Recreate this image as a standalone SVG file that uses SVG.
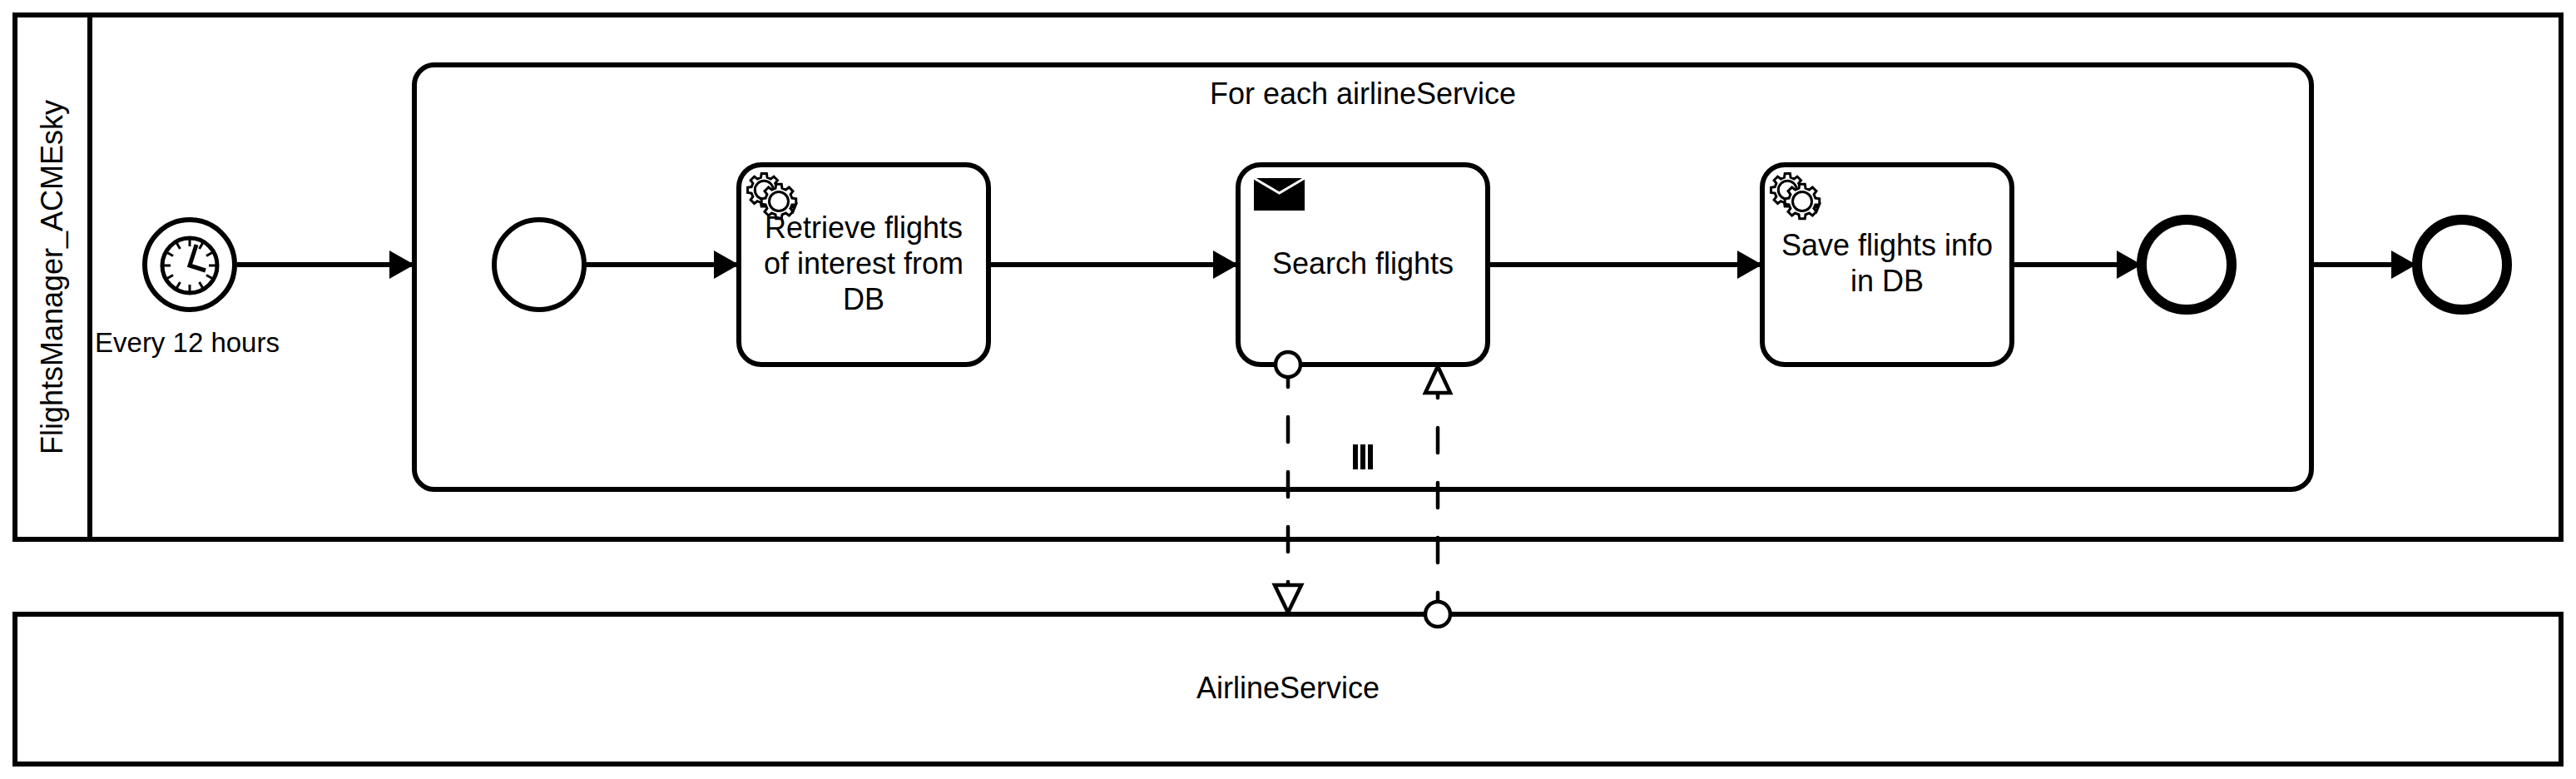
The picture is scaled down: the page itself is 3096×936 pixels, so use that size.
<svg xmlns="http://www.w3.org/2000/svg" xmlns:xlink="http://www.w3.org/1999/xlink" width="3096" height="936" viewBox="0 0 3096 936">
<style>
.box{fill:#fff;stroke:#000;stroke-width:6}
.seq{fill:none;stroke:#000;stroke-width:6;marker-end:url(#head)}
.msg{fill:none;stroke:#000;stroke-width:4.5;stroke-linecap:round;stroke-dasharray:30 36}
.ring{fill:#fff;stroke:#000;stroke-width:4.5}
.gear{fill:#fff;stroke:#000;stroke-width:3;vector-effect:non-scaling-stroke}
.t{font-family:"Liberation Sans",Arial,sans-serif;font-size:36px;fill:#000;text-anchor:middle}
.end{fill:#fff;stroke:#000;stroke-width:12}
</style>
<defs>
<marker id="head" markerUnits="userSpaceOnUse" markerWidth="32" markerHeight="36" refX="30" refY="17" orient="auto"><polygon points="0,0 30,17 0,34" fill="#000"/></marker>
<path id="gearShape" class="gear" d="M75.7,18.9L98.8,15.6L80.9,58.8L66.9,40.2ZM66.9,40.2L80.9,58.8L58.8,80.9L40.2,66.9L18.9,75.7L15.6,98.8L-15.6,98.8L-18.9,75.7L-40.2,66.9L-58.8,80.9L-80.9,58.8L-66.9,40.2L-75.7,18.9L-98.8,15.6L-98.8,-15.6L-75.7,-18.9L-66.9,-40.2L-80.9,-58.8L-58.8,-80.9L-40.2,-66.9L-18.9,-75.7L-15.6,-98.8L15.6,-98.8L18.9,-75.7L40.2,-66.9L58.8,-80.9L80.9,-58.8L66.9,-40.2L75.7,-18.9L98.8,-15.6L98.8,15.6Z"/>
<g id="gears">
<use href="#gearShape" transform="translate(30.3,30.3) scale(.2)"/>
<circle cx="30.3" cy="30.3" r="11" fill="#fff" stroke="#000" stroke-width="3"/>
<use href="#gearShape" transform="translate(48,44) scale(.21)"/>
<circle cx="48" cy="44" r="11.5" fill="#fff" stroke="#000" stroke-width="3"/>
</g>
</defs>
<rect width="3096" height="936" fill="#fff"/>
<g id="pool-flightsmanager">
<rect class="box" x="18" y="18" width="3060" height="630"/>
<line x1="108" y1="18" x2="108" y2="648" stroke="#000" stroke-width="6"/>
<text class="t" transform="translate(75,333) rotate(-90)">FlightsManager_ACMEsky</text>
</g>
<g id="pool-airlineservice">
<rect class="box" x="18" y="738" width="3060" height="180"/>
<text class="t" x="1548" y="839">AirlineService</text>
</g>
<g id="subprocess">
<rect class="box" x="498" y="78" width="2280" height="510" rx="24" ry="24"/>
<text class="t" x="1638" y="125">For each airlineService</text>
<g fill="#000"><rect x="1626" y="534" width="6" height="30"/><rect x="1635" y="534" width="6" height="30"/><rect x="1644" y="534" width="6" height="30"/></g>
</g>
<g id="timer-start">
<circle cx="228" cy="318" r="54" fill="#fff" stroke="#000" stroke-width="6"/>
<circle cx="228" cy="319" r="33" fill="#fff" stroke="#000" stroke-width="5"/>
<g stroke="#000" stroke-width="3">
<line x1="228" y1="288" x2="228" y2="296"/><line x1="228" y1="342" x2="228" y2="350"/><line x1="197" y1="319" x2="205" y2="319"/><line x1="251" y1="319" x2="259" y2="319"/>
<line x1="243.5" y1="292.2" x2="239.5" y2="299.1"/><line x1="255" y1="303.5" x2="248" y2="307.5"/><line x1="255" y1="334.5" x2="248" y2="330.5"/><line x1="243.5" y1="345.8" x2="239.5" y2="338.9"/><line x1="212.5" y1="345.8" x2="216.5" y2="338.9"/><line x1="201" y1="334.5" x2="208" y2="330.5"/><line x1="201" y1="303.5" x2="208" y2="307.5"/><line x1="212.5" y1="292.2" x2="216.5" y2="299.1"/>
</g>
<path d="M236,294L228,319L247,325" fill="none" stroke="#000" stroke-width="5"/>
<text class="t" style="font-size:33px" x="225" y="423">Every 12 hours</text>
</g>
<g id="start-inner"><circle cx="648" cy="318" r="54" fill="#fff" stroke="#000" stroke-width="6"/></g>
<g id="task-retrieve">
<rect class="box" x="888" y="198" width="300" height="240" rx="27" ry="27"/>
<use href="#gears" x="888" y="198"/>
<text class="t" x="1038" y="286">Retrieve flights</text>
<text class="t" x="1038" y="329">of interest from</text>
<text class="t" x="1038" y="372">DB</text>
</g>
<g id="task-search">
<rect class="box" x="1488" y="198" width="300" height="240" rx="27" ry="27"/>
<rect x="1507" y="214" width="61" height="39" fill="#000"/>
<path d="M1507,214L1537.5,232L1568,214" fill="none" stroke="#fff" stroke-width="3"/>
<text class="t" x="1638" y="329">Search flights</text>
</g>
<g id="task-save">
<rect class="box" x="2118" y="198" width="300" height="240" rx="27" ry="27"/>
<use href="#gears" x="2118" y="198"/>
<text class="t" x="2268" y="307">Save flights info</text>
<text class="t" x="2268" y="350">in DB</text>
</g>
<g id="end-inner"><circle class="end" cx="2628" cy="318" r="54"/></g>
<g id="end-outer"><circle class="end" cx="2959" cy="318" r="54"/></g>
<g id="connectors">
<path class="seq" d="M285,318H498"/>
<path class="seq" d="M702,318H888"/>
<path class="seq" d="M1188,318H1488"/>
<path class="seq" d="M1788,318H2118"/>
<path class="seq" d="M2418,318H2574"/>
<path class="seq" d="M2778,318H2904"/>
<path class="msg" d="M1548,435V704"/>
<polygon class="ring" points="1532,703 1564,703 1548,736"/>
<circle class="ring" cx="1548" cy="438" r="15"/>
<path class="msg" d="M1728,742V470"/>
<polygon class="ring" points="1713,472 1743,472 1728,440"/>
<circle class="ring" cx="1728" cy="738" r="15"/>
</g>
</svg>
